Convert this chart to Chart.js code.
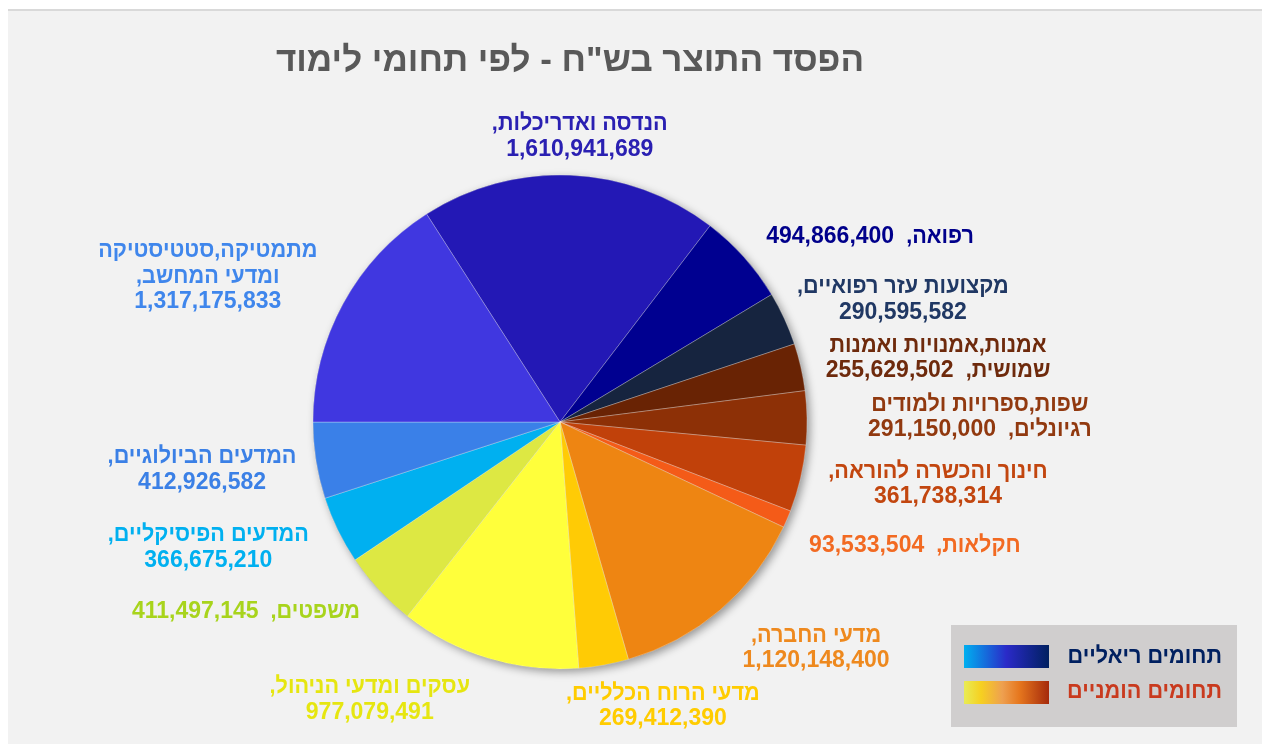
<!DOCTYPE html>
<html lang="he">
<head>
<meta charset="utf-8">
<script src="https://cdn.jsdelivr.net/npm/chart.js@4.4.1/dist/chart.umd.min.js"></script>
<style>
html,body{margin:0;padding:0;background:#fff;width:1262px;height:744px;overflow:hidden;}
#panel{position:absolute;left:8px;top:9px;right:0;bottom:0;background:#f2f2f2;border-top:2px solid #d9d9d9;}
#wrap{position:absolute;left:0;top:0;width:1262px;height:744px;}
</style>
</head>
<body>
<div id="panel"></div>
<div id="wrap"><canvas id="c" width="1262" height="744"></canvas></div>
<script>
// ---------- data ----------
const chartTitle = 'הפסד התוצר בש"ח - לפי תחומי לימוד';
const categories = [
  'הנדסה ואדריכלות',
  'רפואה',
  'מקצועות עזר רפואיים',
  'אמנות,אמנויות ואמנות שמושית',
  'שפות,ספרויות ולמודים רגיונלים',
  'חינוך והכשרה להוראה',
  'חקלאות',
  'מדעי החברה',
  'מדעי הרוח הכלליים',
  'עסקים ומדעי הניהול',
  'משפטים',
  'המדעים הפיסיקליים',
  'המדעים הביולוגיים',
  'מתמטיקה,סטטיסטיקה ומדעי המחשב'
];
const values = [
  1610941689, 494866400, 290595582, 255629502, 291150000, 361738314, 93533504,
  1120148400, 269412390, 977079491, 411497145, 366675210, 412926582, 1317175833
];
const legendLabels = ['תחומים ריאליים', 'תחומים הומניים'];

// ---------- style / layout ----------
const sliceColors = ['#2318b5','#000090','#16243f','#692304','#8d3006','#c1410a','#f45b18',
  '#ee8512','#ffcb05','#ffff3b','#dde843','#00b0f0','#3a80e8','#4037e0'];
const labelColors = ['#2a20b2','#00008b','#203864','#6e2a0c','#91390f','#c2460f','#f26a22',
  '#ee891e','#ffcc00','#e6e610','#a8d41c','#00b0f0','#3b80e6','#3f86ec'];
const labelLineWords = [[2,1],[2],[3,1],[2,2],[2,2],[3,1],[2],[2,1],[3,1],[3,1],[2],[2,1],[2,1],[1,2,1]];
const labelShiftDeg = [1.6, 11.0, 5.1, 3.3, 0.3, -3.9, -4.0, -8.1, -9.7, 17.5, 11.7, 6.3, 1.4, -6.2];
const labelDist = [1.157, 1.462, 1.474, 1.552, 1.70, 1.551, 1.521, 1.383, 1.223, 1.363, 1.486, 1.512, 1.462, 1.543];
const FONT = '"Liberation Sans", Arial, "DejaVu Sans", sans-serif';
const HEB_SCALE = 0.94;

function fmt(v){ return v.toLocaleString('en-US'); }

function labelLines(i){
  const words = categories[i].split(' ');
  words[words.length-1] += ',';
  words.push(fmt(values[i]));
  const lines = [];
  let k = 0;
  for (const n of labelLineWords[i]) {
    const part = words.slice(k, k+n);
    k += n;
    let s = '';
    part.forEach((w, j) => {
      if (j > 0) s += /^[0-9]/.test(w) ? '  ' : ' ';
      s += w;
    });
    lines.push(s);
  }
  return lines;
}

// draws an RTL line centred at cx (align 'center') or ending at cx (align 'right'),
// Hebrew words slightly condensed to match the reference face
function drawRtlLine(ctx, text, cx, y, align){
  const toks = text.split(/( +)/).filter(t => t.length);
  const info = toks.map(t => {
    const isNum = /^[0-9]/.test(t);
    const isSpace = /^ +$/.test(t);
    const s = isNum ? 1 : HEB_SCALE;
    return { t, isNum, isSpace, s, w: ctx.measureText(t).width * s };
  });
  const total = info.reduce((a, b) => a + b.w, 0);
  let x = align === 'right' ? cx : cx + total/2;
  ctx.textAlign = 'right';
  for (const it of info) {
    if (!it.isSpace) {
      ctx.save();
      ctx.translate(x, y);
      ctx.scale(it.s, 1);
      ctx.fillText(it.t, 0, 0);
      ctx.restore();
    }
    x -= it.w;
  }
}

const shadowPlugin = {
  id: 'pieShadow',
  beforeDatasetsDraw(chart){
    const arc = chart.getDatasetMeta(0).data[0];
    if (!arc) return;
    const ctx = chart.ctx;
    ctx.save();
    ctx.shadowColor = 'rgba(0,0,0,0.38)';
    ctx.shadowBlur = 9;
    ctx.shadowOffsetX = 3;
    ctx.shadowOffsetY = 3;
    ctx.beginPath();
    ctx.arc(arc.x, arc.y, arc.outerRadius, 0, Math.PI*2);
    ctx.fillStyle = '#888';
    ctx.fill();
    ctx.restore();
  }
};

const labelPlugin = {
  id: 'sliceLabels',
  afterDatasetsDraw(chart){
    const ctx = chart.ctx;
    const meta = chart.getDatasetMeta(0);
    ctx.save();
    ctx.direction = 'rtl';
    ctx.textBaseline = 'middle';
    ctx.font = 'bold 23px ' + FONT;
    meta.data.forEach((arc, i) => {
      const mid = (arc.startAngle + arc.endAngle)/2 + labelShiftDeg[i]*Math.PI/180;
      const d = arc.outerRadius * labelDist[i];
      const cx = arc.x + Math.cos(mid)*d;
      const cy = arc.y + Math.sin(mid)*d;
      const lines = labelLines(i);
      const lh = 25.5;
      ctx.fillStyle = labelColors[i];
      lines.forEach((ln, j) => {
        drawRtlLine(ctx, ln, cx, cy + (j - (lines.length-1)/2)*lh, 'center');
      });
    });
    ctx.restore();
  }
};

const decorPlugin = {
  id: 'decor',
  afterDraw(chart){
    const ctx = chart.ctx;
    ctx.save();
    // title
    ctx.direction = 'rtl';
    ctx.textAlign = 'center';
    ctx.textBaseline = 'middle';
    ctx.font = 'bold 35px ' + FONT;
    ctx.fillStyle = '#595959';
    ctx.fillText(chartTitle, 570, 61);
    // legend box
    ctx.fillStyle = '#d0cece';
    ctx.fillRect(951, 625, 286, 102);
    const g1 = ctx.createLinearGradient(964, 0, 1049, 0);
    g1.addColorStop(0, '#00b0f0');
    g1.addColorStop(0.5, '#2a2ac8');
    g1.addColorStop(1, '#002060');
    ctx.fillStyle = g1;
    ctx.fillRect(964, 645, 85, 23);
    const g2 = ctx.createLinearGradient(964, 0, 1049, 0);
    g2.addColorStop(0, '#e8ec55');
    g2.addColorStop(0.2, '#f6d020');
    g2.addColorStop(0.45, '#eea050');
    g2.addColorStop(0.65, '#e6771e');
    g2.addColorStop(1, '#a52a0c');
    ctx.fillStyle = g2;
    ctx.fillRect(964, 681, 85, 23);
    ctx.font = 'bold 23px ' + FONT;
    ctx.fillStyle = '#002060';
    drawRtlLine(ctx, legendLabels[0], 1222, 657, 'right');
    ctx.fillStyle = '#c93a1e';
    drawRtlLine(ctx, legendLabels[1], 1222, 692, 'right');
    ctx.restore();
  }
};

new Chart(document.getElementById('c'), {
  type: 'pie',
  data: {
    labels: categories,
    datasets: [{
      data: values,
      backgroundColor: sliceColors,
      borderColor: 'rgba(255,255,255,0.28)',
      borderWidth: 1,
      radius: 247
    }]
  },
  options: {
    responsive: false,
    animation: false,
    rotation: -32.69,
    layout: { padding: { left: 310, right: 452, top: 172, bottom: 72 } },
    plugins: {
      legend: { display: false },
      tooltip: { enabled: false },
      title: { display: false }
    }
  },
  plugins: [shadowPlugin, labelPlugin, decorPlugin]
});
</script>
</body>
</html>
